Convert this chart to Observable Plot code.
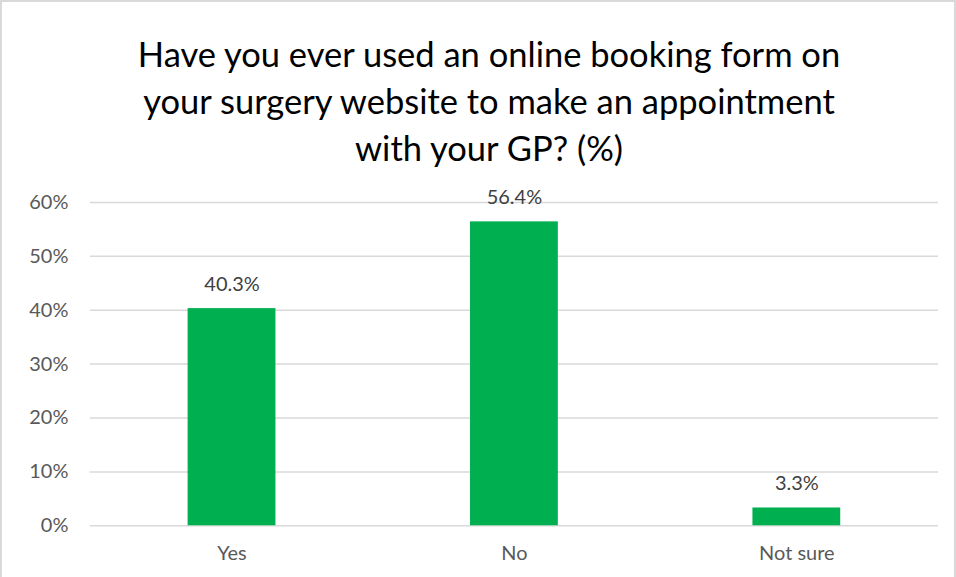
<!DOCTYPE html>
<html>
<head>
<meta charset="utf-8">
<script src="https://cdn.jsdelivr.net/npm/d3@7"></script>
<script src="https://cdn.jsdelivr.net/npm/@observablehq/plot@0.6"></script>
<style>
  html, body { margin: 0; padding: 0; background: #fff; }
  #chart {
    position: relative; width: 956px; height: 577px; box-sizing: border-box;
    border: 2px solid #d9d9d9; border-bottom: none; overflow: hidden; background: #fff;
    font-family: Lato, sans-serif;
  }
  #title {
    position: absolute; left: 9px; width: 956px; top: 28px; text-align: center;
    font-family: Lato, sans-serif;
    font-size: 34.5px; line-height: 47px; color: #000;
  }
  #plot { position: absolute; left: -2px; top: 178px; }
</style>
</head>
<body>
<div id="chart">
  <div id="title">Have you ever used an online booking form on<br>your surgery website to make an appointment<br>with your GP? (%)</div>
  <div id="plot"></div>
</div>
<script>
const categories = ["Yes", "No", "Not sure"];
const values = [40.3, 56.4, 3.3];
const yTicks = [0, 10, 20, 30, 40, 50, 60];

const data = categories.map((c, i) => ({category: c, value: values[i]}));

const chart = Plot.plot({
  width: 956,
  height: 399,
  marginTop: 22,
  marginBottom: 53,
  marginLeft: 90,
  marginRight: 16,
  style: {fontFamily: "Lato, sans-serif", fontSize: "20px", color: "#595959", background: "transparent"},
  x: {domain: categories, paddingInner: 0.69, paddingOuter: 0.345, label: null, tickSize: 0, tickPadding: 20},
  y: {domain: [0, 60], ticks: yTicks, label: null, tickSize: 0, tickPadding: 22, tickFormat: d => d + "%"},
  marks: [
    Plot.gridY(yTicks, {stroke: "#d9d9d9", strokeOpacity: 1, strokeWidth: 1.5}),
    Plot.barY(data, {x: "category", y: "value", fill: "#00b050"}),
    Plot.text(data, {x: "category", y: "value", text: d => d.value.toFixed(1) + "%", dy: -24, fontSize: 20, fill: "#404040"}),
    Plot.axisX({tickSize: 0, tickPadding: 20, fontSize: 20, fill: "#595959"}),
    Plot.axisY({ticks: yTicks, tickSize: 0, tickPadding: 22, tickFormat: d => d + "%", fontSize: 20, fill: "#595959"})
  ]
});
document.getElementById("plot").appendChild(chart);
</script>
</body>
</html>
